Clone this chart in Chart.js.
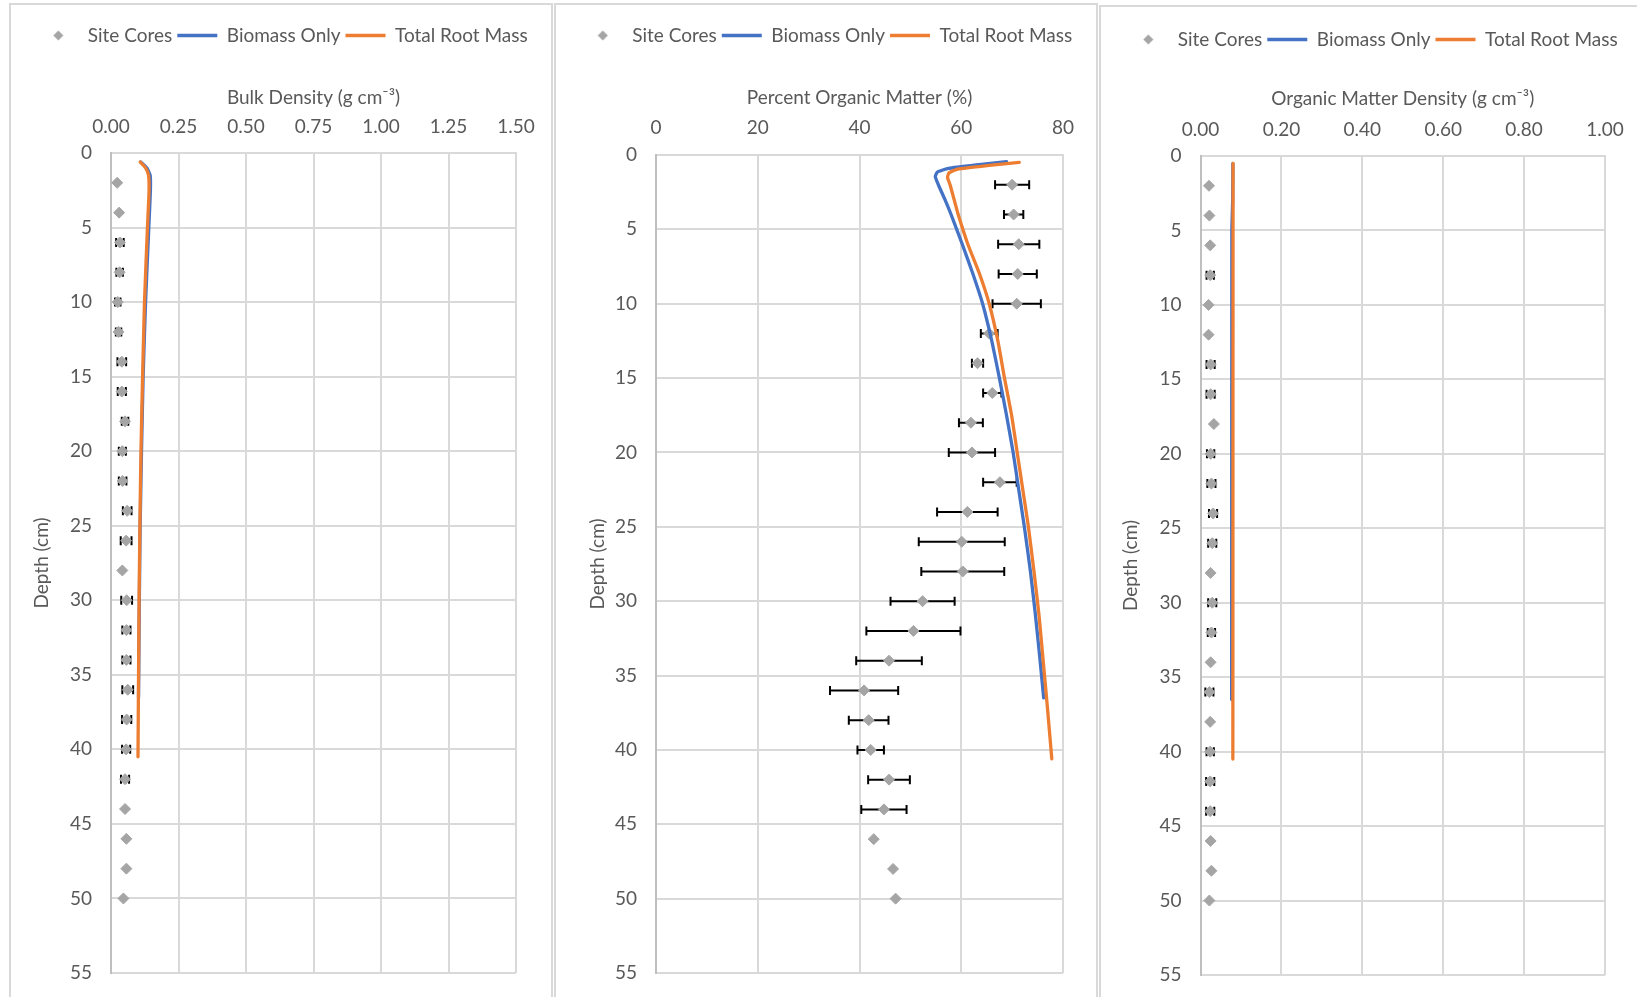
<!DOCTYPE html>
<html>
<head>
<meta charset="utf-8">
<script src="https://cdn.jsdelivr.net/npm/chart.js@4.4.1/dist/chart.umd.min.js"></script>
<style>
  html, body { margin: 0; padding: 0; background: #fff; width: 1637px; height: 997px; overflow: hidden; }
  .frame { position: absolute; border: 2px solid #D9D9D9; box-sizing: border-box; }
  canvas { position: absolute; }
</style>
</head>
<body>
<div class="frame" style="left:9px;top:3px;width:544px;height:1010px;"></div>
<div class="frame" style="left:554px;top:3px;width:544px;height:1010px;"></div>
<div class="frame" style="left:1099px;top:5px;width:600px;height:1010px;"></div>
<canvas id="bd" width="542" height="993" style="left:10px;top:4px;"></canvas>
<canvas id="pom" width="542" height="993" style="left:555px;top:4px;"></canvas>
<canvas id="omd" width="537" height="991" style="left:1100px;top:6px;"></canvas>
<script>
// ---- Site core sampling depths (cm) ----
const coreDepth = [2, 4, 6, 8, 10, 12, 14, 16, 18, 20, 22, 24, 26, 28, 30, 32, 34, 36, 38, 40, 42, 44, 46, 48, 50];
const depthTicks = [0, 5, 10, 15, 20, 25, 30, 35, 40, 45, 50, 55];

// ---- Bulk density (g cm-3) ----
const bdCores = [0.023, 0.030, 0.033, 0.032, 0.025, 0.028, 0.040, 0.040, 0.052, 0.042, 0.043, 0.060, 0.056,
                 0.042, 0.058, 0.057, 0.057, 0.062, 0.058, 0.056, 0.052, 0.052, 0.057, 0.057, 0.046];
const bdCoresErr = [0, 0, 0.014, 0.012, 0.010, 0.010, 0.016, 0.015, 0.012, 0.013, 0.014, 0.016, 0.020,
                    0, 0.020, 0.015, 0.015, 0.020, 0.017, 0.015, 0.015, 0, 0, 0, 0];
const bdBiomassDepth = [0.6, 1.0, 1.5, 2.5, 5, 10, 15, 20, 25, 30, 36.5];
const bdBiomass = [0.110, 0.133, 0.145, 0.146, 0.140, 0.128, 0.119, 0.113, 0.108, 0.105, 0.102];
const bdTotalDepth = [0.6, 1.0, 1.5, 2.5, 5, 10, 15, 20, 25, 30, 35, 40.5];
const bdTotal = [0.108, 0.128, 0.139, 0.141, 0.135, 0.124, 0.117, 0.111, 0.107, 0.104, 0.102, 0.100];
const bdTicks = [0, 0.25, 0.5, 0.75, 1.0, 1.25, 1.5];

// ---- Percent organic matter (%) ----
const pomCores = [70.0, 70.3, 71.3, 71.1, 70.9, 65.5, 63.2, 66.1, 61.9, 62.1, 67.6, 61.2, 60.1,
                  60.3, 52.4, 50.6, 45.8, 40.9, 41.8, 42.2, 45.8, 44.8, 42.8, 46.6, 47.1];
const pomCoresErr = [3.35, 1.9, 4.05, 3.75, 4.75, 1.65, 1.1, 1.8, 2.35, 4.55, 3.3, 5.95, 8.45,
                     8.15, 6.3, 9.25, 6.45, 6.7, 3.9, 2.6, 4.1, 4.45, 0, 0, 0];
const pomBiomassDepth = [0.45, 0.65, 0.9, 1.15, 1.45, 2, 3, 4, 6, 8, 10, 12.5, 15, 17.5, 20, 22.5, 25, 28, 31, 34, 36.5];
const pomBiomass = [68.9, 63.5, 57.5, 55.3, 54.9, 55.5, 56.8, 58.0, 60.2, 62.3, 64.2, 66.0, 67.5, 68.9, 70.2, 71.3, 72.4, 73.6, 74.6, 75.5, 76.2];
const pomTotalDepth = [0.5, 0.7, 0.95, 1.2, 1.5, 2, 3, 4, 6, 8, 10, 12.5, 15, 17.5, 20, 22.5, 25, 28, 31, 34, 37, 40.6];
const pomTotal = [71.4, 65.5, 59.3, 57.6, 57.3, 57.8, 58.6, 59.4, 61.3, 63.6, 65.5, 67.2, 68.5, 69.9, 71.0, 72.1, 73.2, 74.3, 75.3, 76.1, 76.9, 77.8];
const pomTicks = [0, 20, 40, 60, 80];

// ---- Organic matter density (g cm-3) ----
const omdCores = [0.021, 0.022, 0.024, 0.024, 0.020, 0.020, 0.025, 0.025, 0.033, 0.025, 0.027, 0.031, 0.029,
                  0.025, 0.029, 0.027, 0.025, 0.022, 0.024, 0.024, 0.024, 0.024, 0.025, 0.027, 0.022];
const omdCoresErr = [0, 0, 0, 0.009, 0, 0, 0.010, 0.010, 0, 0.009, 0.010, 0.010, 0.010,
                     0, 0.010, 0.009, 0, 0.010, 0, 0.009, 0.010, 0.010, 0, 0, 0];
const omdBiomassDepth = [0.5, 3, 5, 36.5];
const omdBiomass = [0.080, 0.0795, 0.0775, 0.077];
const omdTotalDepth = [0.5, 40.5];
const omdTotal = [0.0805, 0.0800];
const omdTicks = [0, 0.2, 0.4, 0.6, 0.8, 1.0];

const TEXT = '#595959';
const GRID = '#D9D9D9';
const CORE_GREY = '#A5A5A5';
Chart.defaults.font.family = 'Lato, "Open Sans", sans-serif';
Chart.defaults.color = TEXT;

const pairs = (xs, ys) => xs.map((x, i) => ({ x: x, y: ys[i] }));

// Small diamond swatch used for the "Site Cores" legend entry
const legendDiamond = (() => {
  const c = document.createElement('canvas');
  c.width = 11; c.height = 11;
  const g = c.getContext('2d');
  g.fillStyle = CORE_GREY;
  g.beginPath();
  g.moveTo(5.5, 0.5); g.lineTo(10.5, 5.5); g.lineTo(5.5, 10.5); g.lineTo(0.5, 5.5);
  g.closePath(); g.fill();
  return c;
})();

// Horizontal error bars with end caps, drawn under the markers
const errorBars = {
  id: 'errorBars',
  beforeDatasetsDraw(chart) {
    const xs = chart.scales.x, ys = chart.scales.y, ctx = chart.ctx;
    ctx.save();
    ctx.strokeStyle = '#000000';
    ctx.lineWidth = 2;
    chart.data.datasets.forEach(ds => {
      if (!ds.errorX) return;
      ds.data.forEach((p, i) => {
        const e = ds.errorX[i];
        if (!e) return;
        const y = ys.getPixelForValue(p.y);
        const x1 = xs.getPixelForValue(p.x - e);
        const x2 = xs.getPixelForValue(p.x + e);
        ctx.beginPath();
        ctx.moveTo(x1, y); ctx.lineTo(x2, y);
        ctx.moveTo(x1, y - 4.5); ctx.lineTo(x1, y + 4.5);
        ctx.moveTo(x2, y - 4.5); ctx.lineTo(x2, y + 4.5);
        ctx.stroke();
      });
    });
    ctx.restore();
  }
};

function depthProfile(canvasId, g, d) {
  const fontSz = 19;
  return new Chart(document.getElementById(canvasId), {
    type: 'scatter',
    data: {
      datasets: [
        {
          label: 'Site Cores',
          data: pairs(d.cores, coreDepth),
          errorX: d.coresErr,
          showLine: false,
          pointStyle: 'rectRot',
          pointRadius: 5.5,
          pointBackgroundColor: CORE_GREY,
          pointBorderColor: CORE_GREY,
          pointBorderWidth: 1,
          order: 3
        },
        {
          label: 'Biomass Only',
          data: pairs(d.biomass, d.biomassDepth),
          showLine: true,
          borderColor: '#4472C4',
          backgroundColor: '#4472C4',
          borderWidth: 3.3,
          pointRadius: 0,
          pointStyle: 'line',
          pointBorderColor: '#4472C4',
          pointBorderWidth: 3.3,
          tension: 0.15,
          borderCapStyle: 'round',
          borderJoinStyle: 'round',
          order: 2
        },
        {
          label: 'Total Root Mass',
          data: pairs(d.total, d.totalDepth),
          showLine: true,
          borderColor: '#ED7D31',
          backgroundColor: '#ED7D31',
          borderWidth: 3.3,
          pointRadius: 0,
          pointStyle: 'line',
          pointBorderColor: '#ED7D31',
          pointBorderWidth: 3.3,
          tension: 0.15,
          borderCapStyle: 'round',
          borderJoinStyle: 'round',
          order: 1
        }
      ]
    },
    options: {
      responsive: false,
      animation: false,
      devicePixelRatio: 1,
      events: [],
      layout: { autoPadding: false, padding: { left: g.padL, right: 0, top: g.padT, bottom: g.padB } },
      plugins: {
        tooltip: { enabled: false },
        legend: {
          position: 'top',
          fullSize: true,
          labels: {
            usePointStyle: true,
            pointStyleWidth: 40,
            boxHeight: 7,
            padding: 5,
            color: TEXT,
            font: { size: fontSz },
            sort: (a, b) => a.datasetIndex - b.datasetIndex,
            generateLabels: chart => Chart.defaults.plugins.legend.labels.generateLabels(chart)
              .map(item => item.datasetIndex === 0 ? Object.assign(item, { pointStyle: legendDiamond }) : item)
          }
        }
      },
      scales: {
        x: {
          type: 'linear',
          position: 'top',
          min: d.ticks[0],
          max: d.ticks[d.ticks.length - 1],
          afterBuildTicks: s => { s.ticks = d.ticks.map(v => ({ value: v })); },
          ticks: {
            autoSkip: false,
            maxRotation: 0,
            padding: g.xTickPad,
            color: TEXT,
            font: { size: fontSz },
            callback: v => v.toFixed(d.decimals)
          },
          grid: { color: GRID, lineWidth: 2, drawTicks: false },
          border: { color: GRID, width: 2 },
          title: { display: true, text: d.title, color: TEXT, font: { size: fontSz }, padding: { top: g.xTitlePad, bottom: 0 } },
          afterFit: s => {
            s.height = g.plotTop - g.padT - s.chart.legend.height;
            s.paddingLeft = 0; s.paddingRight = 0;
          }
        },
        y: {
          type: 'linear',
          position: 'left',
          reverse: true,
          min: 0,
          max: 55,
          afterBuildTicks: s => { s.ticks = depthTicks.map(v => ({ value: v })); },
          ticks: { autoSkip: false, padding: 19, color: TEXT, font: { size: fontSz } },
          grid: { color: GRID, lineWidth: 2, drawTicks: false },
          border: { color: '#BFBFBF', width: 2 },
          title: { display: true, text: 'Depth (cm)', color: TEXT, font: { size: fontSz }, padding: { top: g.yTitlePad, bottom: 0 } },
          afterFit: s => {
            s.width = g.yWidth;
            s.paddingTop = 0; s.paddingBottom = 0;
          }
        },
        // empty margin on the right of the plot area
        gutter: {
          type: 'linear',
          position: 'right',
          display: true,
          grid: { display: false, drawTicks: false },
          border: { display: false },
          ticks: { display: false },
          afterFit: s => { s.width = g.gutter; s.paddingTop = 0; s.paddingBottom = 0; }
        }
      }
    },
    plugins: [errorBars]
  });
}

depthProfile('bd',
  { padL: 4, gutter: 36, padT: 17, padB: 24, plotTop: 149, yWidth: 97, yTitlePad: 16.6, xTitlePad: 31.6, xTickPad: 14.6 },
  { cores: bdCores, coresErr: bdCoresErr, biomass: bdBiomass, biomassDepth: bdBiomassDepth,
    total: bdTotal, totalDepth: bdTotalDepth, ticks: bdTicks, decimals: 2, title: 'Bulk Density (g cm⁻³)' });

depthProfile('pom',
  { padL: 3, gutter: 34, padT: 17, padB: 24, plotTop: 151, yWidth: 98, yTitlePad: 28.6, xTitlePad: 31.6, xTickPad: 16.2 },
  { cores: pomCores, coresErr: pomCoresErr, biomass: pomBiomass, biomassDepth: pomBiomassDepth,
    total: pomTotal, totalDepth: pomTotalDepth, ticks: pomTicks, decimals: 0, title: 'Percent Organic Matter (%)' });

depthProfile('omd',
  { padL: 9, gutter: 32, padT: 19, padB: 22, plotTop: 150, yWidth: 91.5, yTitlePad: 10.3, xTitlePad: 28.6, xTickPad: 15.1 },
  { cores: omdCores, coresErr: omdCoresErr, biomass: omdBiomass, biomassDepth: omdBiomassDepth,
    total: omdTotal, totalDepth: omdTotalDepth, ticks: omdTicks, decimals: 2, title: 'Organic Matter Density (g cm⁻³)' });
</script>
</body>
</html>
